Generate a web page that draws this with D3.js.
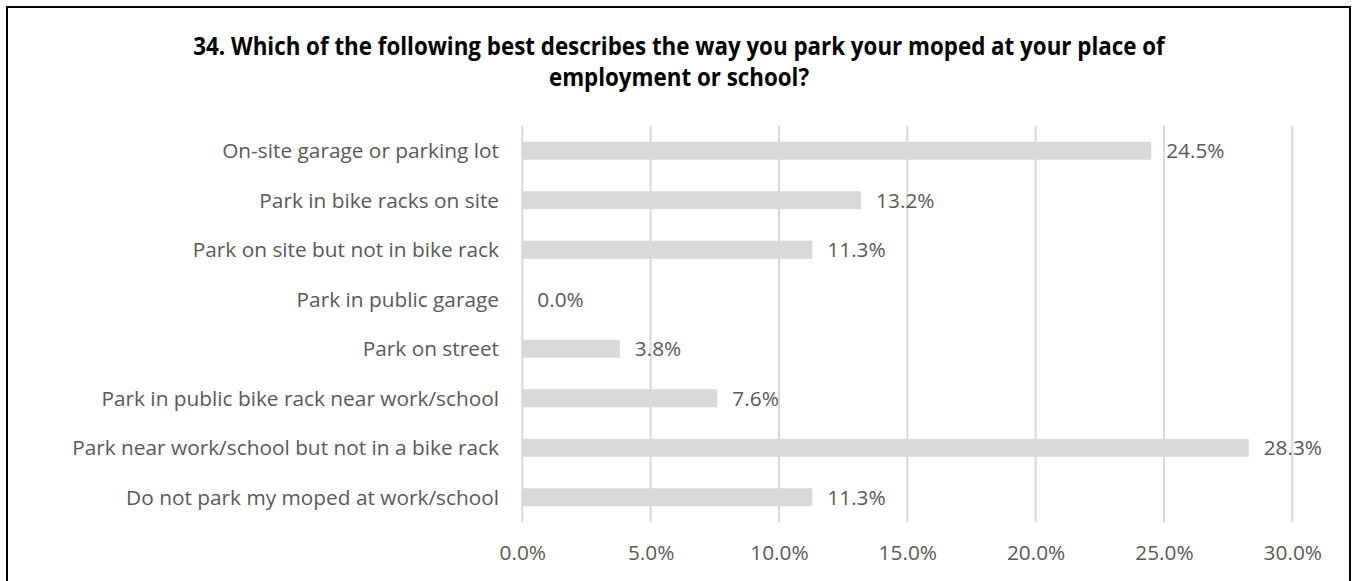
<!DOCTYPE html>
<html>
<head>
<meta charset="utf-8">
<script src="https://cdn.jsdelivr.net/npm/d3@7"></script>
<style>
  html, body { margin: 0; padding: 0; background: #fff; }
  svg { display: block; }
</style>
</head>
<body>
<svg id="chart" width="1354" height="581"></svg>
<script>
const titleLines = [
  "34. Which of the following best describes the way you park your moped at your place of",
  "employment or school?"
];
const categories = [
  "On-site garage or parking lot",
  "Park in bike racks on site",
  "Park on site but not in bike rack",
  "Park in public garage",
  "Park on street",
  "Park in public bike rack near work/school",
  "Park near work/school but not in a bike rack",
  "Do not park my moped at work/school"
];
const values = [24.5, 13.2, 11.3, 0.0, 3.8, 7.6, 28.3, 11.3];
const tickValues = [0, 5, 10, 15, 20, 25, 30];

const svg = d3.select("#chart");
const FONT = "'Open Sans', 'Noto Sans', sans-serif";
const TEXT_COLOR = "#595959";

// frame
svg.append("rect")
  .attr("x", 7).attr("y", 7).attr("width", 1343).attr("height", 600)
  .attr("fill", "#fff").attr("stroke", "#000").attr("stroke-width", 2);

const plot = { left: 522.3, right: 1292.3, top: 126, bottom: 522 };

const x = d3.scaleLinear().domain([0, 30]).range([plot.left, plot.right]);
const y = d3.scaleBand().domain(categories).range([plot.top, plot.bottom])
  .paddingInner(0.636).paddingOuter(0.318);

// gridlines
svg.append("g").selectAll("line").data(tickValues).join("line")
  .attr("x1", d => x(d)).attr("x2", d => x(d))
  .attr("y1", plot.top).attr("y2", plot.bottom)
  .attr("stroke", "#d9d9d9").attr("stroke-width", 2);

// bars
svg.append("g").selectAll("rect").data(values).join("rect")
  .attr("x", x(0))
  .attr("y", (d, i) => y(categories[i]))
  .attr("width", d => x(d) - x(0))
  .attr("height", y.bandwidth())
  .attr("fill", "#d9d9d9");

// condensing factor to emulate a narrow font
const FS = 20.5;
const probe = svg.append("text").attr("font-family", FONT).attr("font-size", FS)
  .text(categories[6]);
const k = 427 / probe.node().getComputedTextLength();
probe.remove();

// category labels
svg.append("g").selectAll("text").data(categories).join("text")
  .attr("transform", d => `translate(499,${y(d) + y.bandwidth() / 2 + FS * 0.357}) scale(${k},1)`)
  .attr("text-anchor", "end")
  .attr("font-family", FONT).attr("font-size", FS).attr("fill", TEXT_COLOR)
  .text(d => d);

// value labels
svg.append("g").selectAll("text").data(values).join("text")
  .attr("transform", (d, i) => `translate(${x(d) + 15},${y(categories[i]) + y.bandwidth() / 2 + FS * 0.357}) scale(${k},1)`)
  .attr("text-anchor", "start")
  .attr("font-family", FONT).attr("font-size", FS).attr("fill", TEXT_COLOR)
  .text(d => d.toFixed(1) + "%");

// x axis
const axis = d3.axisBottom(x).tickValues(tickValues).tickSize(0)
  .tickFormat(d => d.toFixed(1) + "%");
const ax = svg.append("g").attr("transform", "translate(0,560)").call(axis);
ax.select(".domain").remove();
ax.selectAll("text")
  .attr("y", 0).attr("dy", 0)
  .attr("transform", `scale(${k},1)`)
  .attr("font-family", FONT).attr("font-size", FS).attr("fill", TEXT_COLOR);

// title
const TFS = 24.5;
const tprobe = svg.append("text").attr("font-family", FONT).attr("font-size", TFS)
  .attr("font-weight", "bold").text(titleLines[0]);
const kt = 972 / tprobe.node().getComputedTextLength();
tprobe.remove();
svg.append("g").selectAll("text").data(titleLines).join("text")
  .attr("transform", (d, i) => `translate(679,${55 + i * 31}) scale(${kt},1)`)
  .attr("text-anchor", "middle")
  .attr("font-family", FONT).attr("font-size", TFS).attr("font-weight", "bold")
  .attr("fill", "#000")
  .text(d => d);
</script>
</body>
</html>
